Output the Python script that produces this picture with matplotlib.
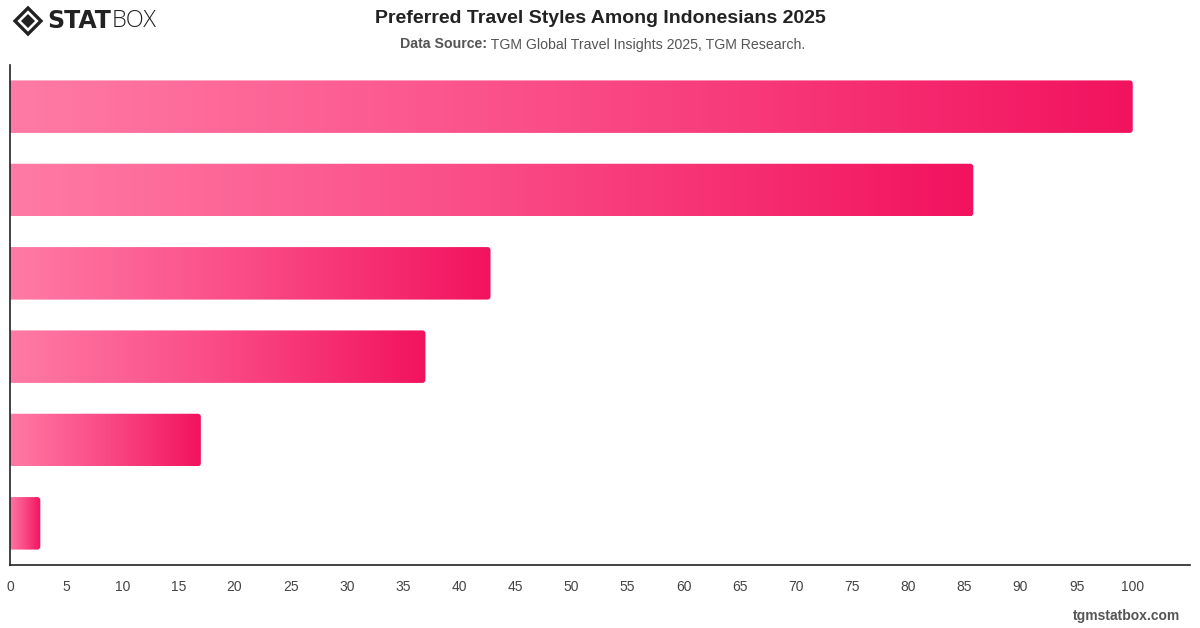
import numpy as np
import matplotlib
matplotlib.use("Agg")
import matplotlib.pyplot as plt
from matplotlib.patches import FancyBboxPatch, Polygon
from matplotlib.colors import LinearSegmentedColormap

# Data (category labels not shown in the reference)
categories = ["Style A", "Style B", "Style C", "Style D", "Style E", "Style F"]
values = [100.0, 85.8, 42.8, 37.0, 17.0, 2.7]
xticks = list(range(0, 101, 5))

title = "Preferred Travel Styles Among Indonesians 2025"
source_bold = "Data Source:"
source_text = " TGM Global Travel Insights 2025, TGM Research."

plt.rcParams['font.family'] = ['Liberation Sans', 'DejaVu Sans']

fig = plt.figure(figsize=(12, 6.28), dpi=100)
ax = fig.add_axes([10/1200, 1-565/628, (1190-10)/1200, 500/628])

cmap = LinearSegmentedColormap.from_list("pinkgrad", ["#FF7BA6", "#FA4B86", "#F2135F"])
grad = np.linspace(0, 1, 256).reshape(1, -1)

ypos = np.arange(len(categories))
bars = ax.barh(ypos, values, height=0.63, color='none')

rx = 0.27
ry = 0.036
for b, v in zip(bars, values):
    y0 = b.get_y()
    h = b.get_height()
    patch = FancyBboxPatch((-1, y0), v + 1, h,
                           boxstyle=f"round,pad=0,rounding_size={rx}",
                           mutation_aspect=ry / rx,
                           facecolor='none', edgecolor='none')
    ax.add_patch(patch)
    im = ax.imshow(grad, cmap=cmap, aspect='auto',
                   extent=[-0.2, v, y0 + h, y0], interpolation='bicubic', zorder=2)
    im.set_clip_path(patch)

ax.set_xlim(0, 105.1)
ax.set_ylim(len(categories) - 0.5, -0.5)

for s in ['top', 'right']:
    ax.spines[s].set_visible(False)
for s in ['left', 'bottom']:
    ax.spines[s].set_color('#222222')
    ax.spines[s].set_linewidth(1.2)
    ax.spines[s].set_zorder(3)
ax.set_yticks([])
ax.set_xticks(xticks)
ax.set_xticklabels([str(t) for t in xticks], fontsize=10, color='#444444')
ax.tick_params(axis='x', length=0, pad=11)

# Title and subtitle
fig.text(0.5, 1 - 18.5/628, title, ha='center', va='center', fontsize=14,
         fontweight='bold', color='#222222')
base_y = 1 - 48.5/628
t1 = fig.text(0.5, base_y, source_bold + source_text, ha='center', va='baseline',
              fontsize=10.2, color='#555555', alpha=0)
fig.canvas.draw()
bb = t1.get_window_extent()
xl = bb.x0 / 1200
tb = fig.text(xl, base_y, source_bold, ha='left', va='baseline', fontsize=10.2,
              fontweight='bold', color='#555555')
fig.canvas.draw()
bb2 = tb.get_window_extent()
fig.text(bb2.x1 / 1200, base_y, source_text, ha='left', va='baseline',
         fontsize=10.2, color='#555555')

# Logo
cx, cy = 28/1200, 1 - 21/628
w = 13/1200
hh = 13/628
outer = Polygon([(cx - w, cy), (cx, cy + hh), (cx + w, cy), (cx, cy - hh)],
                closed=True, transform=fig.transFigure, facecolor='none',
                edgecolor='#222222', linewidth=2.4)
fig.patches.append(outer)
w2, h2 = 7/1200, 7/628
inner = Polygon([(cx - w2, cy), (cx, cy + h2), (cx + w2, cy), (cx, cy - h2)],
                closed=True, transform=fig.transFigure, facecolor='#222222',
                edgecolor='none')
fig.patches.append(inner)
ts = fig.text(47/1200, cy, "STAT", ha='left', va='center', fontsize=17,
              fontweight='bold', family='DejaVu Sans', color='#222222')
fig.canvas.draw()
bs = ts.get_window_extent()
fig.text(bs.x1 / 1200 + 1/1200, cy, "BOX", ha='left', va='center', fontsize=17,
         fontweight='light', family='Open Sans', color='#222222')

# Footer
fig.text(1180/1200, 1 - 616/628, "tgmstatbox.com", ha='right', va='center',
         fontsize=10, fontweight='bold', color='#555555')

fig.savefig("out.png", dpi=100)
